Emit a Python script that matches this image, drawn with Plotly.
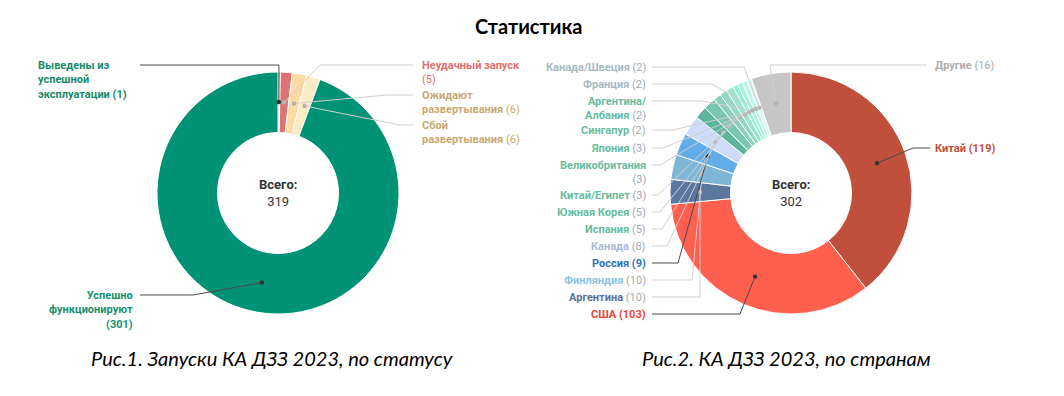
import math
import plotly.graph_objects as go

W, H = 1064, 396

# ---------------- data ----------------
status_names = ["Выведены из успешной эксплуатации", "Неудачный запуск",
                "Ожидают развертывания", "Сбой развертывания", "Успешно функционируют"]
status_text = ["Выведены из<br>успешной<br>эксплуатации", "Неудачный запуск<br>",
               "Ожидают<br>развертывания", "Сбой<br>развертывания", "Успешно<br>функционируют<br>"]
status_values = [1, 5, 6, 6, 301]

country_names = ["Китай", "США", "Аргентина", "Финляндия", "Россия", "Канада", "Испания",
                 "Южная Корея", "Китай/Египет", "Великобритания", "Япония", "Сингапур",
                 "Аргентина/Албания", "Франция", "Канада/Швеция", "Другие"]
country_text = ["Китай", "США", "Аргентина", "Финляндия", "Россия", "Канада", "Испания",
                "Южная Корея", "Китай/Египет", "Великобритания<br>", "Япония", "Сингапур",
                "Аргентина/<br>Албания", "Франция", "Канада/Швеция", "Другие"]
country_values = [119, 103, 10, 10, 9, 8, 5, 5, 3, 3, 3, 2, 2, 2, 2, 16]

# ---------------- styles ----------------
status_colors = ["#a8a8a8", "#df7373", "#fcdba3", "#fdebc5", "#009274"]
status_label_colors = ["#17896a", "#e07070", "#c9a972", "#c9a972", "#17906f"]
status_bold_all = [True, False, False, False, True]
status_dark = [True, False, False, False, True]
# label layout: (side, text_x, line_y, elbow_x, line_end_x)
status_layout = [
    ("left", 36, 65, None, 140),
    ("right", 420, 65, 320, 413),
    ("right", 420, 95, 387, 413),
    ("right", 420, 125, 400, 413),
    ("left_r", 135, 295, 193, 140),
]

country_colors = ["#c0503c", "#ff5f4f", "#5b77a0", "#7eb6d8", "#62ade8", "#cddcfa",
                  "#5db59c", "#79c7b0", "#88d0bb", "#93d8c4", "#9de2cd", "#8ef0d6",
                  "#a6f4df", "#c0f5ea", "#d9f5f5", "#c6c6c6"]
country_label_colors = ["#c0503c", "#e8473b", "#5b6f99", "#8ec3e6", "#2f74b3", "#a9b9d8",
                        "#6abba0", "#6abba0", "#6abba0", "#6abba0", "#6abba0", "#6abba0",
                        "#6abba0", "#a9b9c2", "#a9b9c2", "#adadad"]
country_bold_all = [True, True, False, False, True] + [False] * 11
country_dark = country_bold_all
country_layout = [
    ("right", 933, 148, 913, 930),
    ("left_r", 648, 314, 740, 652),
    ("left_r", 648, 297, 700, 652),
    ("left_r", 648, 280, 692, 652),
    ("left_r", 648, 263, 678, 652),
    ("left_r", 648, 246, 667, 652),
    ("left_r", 648, 229, 662, 652),
    ("left_r", 648, 212, 660, 652),
    ("left_r", 648, 195, 658, 652),
    ("left_r", 648, 165, 660, 652),
    ("left_r", 648, 148, 663, 652),
    ("left_r", 648, 130, 673, 652),
    ("left_r", 648, 101, 702, 652),
    ("left_r", 648, 84, 712, 652),
    ("left_r", 648, 67, 744, 652),
    ("right", 933, 65, 770, 927),
]

R_OUT = 121
HOLE = 0.5
DOT_R = 91
FONT = "Roboto"
FS = 11


def px(x):
    return x / W


def py(y):
    return 1 - y / H


fig = go.Figure()
shapes = []
annotations = []


def add_donut(cx, cy, names, values, colors, label_text, label_colors, bold_all, dark,
              lay, total_label, cnt_grey):
    fig.add_trace(go.Pie(
        labels=names, values=values, sort=False, direction="clockwise", rotation=0,
        hole=HOLE, textinfo="none", showlegend=False,
        marker=dict(colors=colors, line=dict(color="white", width=1)),
        domain=dict(x=[px(cx - R_OUT), px(cx + R_OUT)], y=[py(cy + R_OUT), py(cy - R_OUT)]),
    ))
    total = sum(values)
    cum = 0
    for i, v in enumerate(values):
        th = (cum + v / 2) / total * 2 * math.pi
        cum += v
        dx = cx + DOT_R * math.sin(th)
        dy = cy - DOT_R * math.cos(th)
        side, tx, ly, ex, lx = lay[i]
        if ex is None:
            ex = dx
        lc = "#4a4a4a" if dark[i] else "#cfcfcf"
        dc = "#333333" if dark[i] else "#b5b5b5"
        shapes.append(dict(type="path", xref="paper", yref="paper", layer="above",
                           path=f"M {px(dx)},{py(dy)} L {px(ex)},{py(ly)} L {px(lx)},{py(ly)}",
                           line=dict(color=lc, width=1)))
        r = 2.2
        shapes.append(dict(type="circle", xref="paper", yref="paper", layer="above",
                           x0=px(dx - r), x1=px(dx + r), y0=py(dy + r), y1=py(dy - r),
                           fillcolor=dc, line=dict(width=0)))
        col = label_colors[i]
        name = label_text[i]
        cnt = f"({v})"
        sep = "" if name.endswith("<br>") else " "
        if bold_all[i]:
            txt = f"<b>{name}{sep}{cnt}</b>"
        else:
            cnt_col = cnt_grey or col
            txt = f"<b>{name}</b>{sep}<span style='color:{cnt_col}'>{cnt}</span>"
        if side == "left_r":
            xa, al = "right", "right"
        else:
            xa, al = "left", "left"
        annotations.append(dict(x=px(tx), y=py(ly - 8), xref="paper", yref="paper",
                                xanchor=xa, yanchor="top", align=al, showarrow=False,
                                text=txt, font=dict(family=FONT, size=FS, color=col)))
    annotations.append(dict(x=px(cx), y=py(cy), xref="paper", yref="paper",
                            xanchor="center", yanchor="middle", showarrow=False,
                            text=f"<b>Всего:</b><br>{total_label}",
                            font=dict(family=FONT, size=13, color="#333333")))


add_donut(278, 193, status_names, status_values, status_colors, status_text,
          status_label_colors, status_bold_all, status_dark, status_layout,
          str(sum(status_values)), None)
add_donut(791, 193, country_names, country_values, country_colors, country_text,
          country_label_colors, country_bold_all, country_dark, country_layout,
          str(sum(country_values)), "#a3abb2")

annotations.append(dict(x=px(528), y=py(26), xref="paper", yref="paper", showarrow=False,
                        xanchor="center", yanchor="middle", text="<b>Статистика</b>",
                        font=dict(family="Lato", size=20, color="#000000")))
annotations.append(dict(x=px(272), y=py(358), xref="paper", yref="paper", showarrow=False,
                        xanchor="center", yanchor="middle",
                        text="<i>Рис.1. Запуски КА ДЗЗ 2023, по статусу</i>",
                        font=dict(family="Lato", size=20, color="#000000")))
annotations.append(dict(x=px(786), y=py(358), xref="paper", yref="paper", showarrow=False,
                        xanchor="center", yanchor="middle",
                        text="<i>Рис.2. КА ДЗЗ 2023, по странам</i>",
                        font=dict(family="Lato", size=20, color="#000000")))

fig.update_layout(width=W, height=H, autosize=False,
                  margin=dict(l=0, r=0, t=0, b=0),
                  paper_bgcolor="white", plot_bgcolor="white",
                  shapes=shapes, annotations=annotations)

fig.write_html("out.html", config={"displayModeBar": False},
               post_script="document.body.style.margin='0';document.body.style.overflow='hidden';")
